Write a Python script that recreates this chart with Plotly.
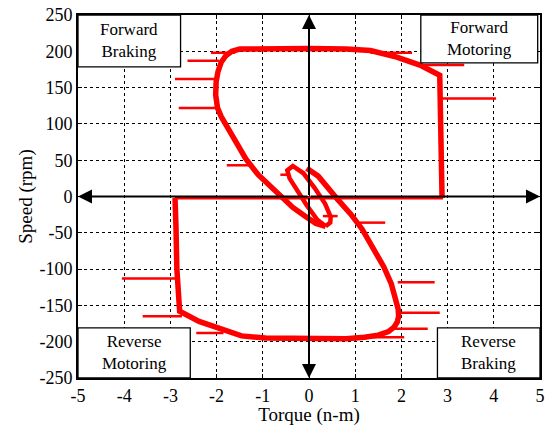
import plotly.graph_objects as go

# ---- data ----
# bottom horizontal line along the torque axis (speed ~ 0)
base_x = [-2.9, 0.0, 2.9]
base_y = [-2, -2, -2]

# forward motoring -> forward braking -> into the small loop
fwd_x = [2.88, 2.87, 2.85, 2.83, 2.4, 1.9, 1.33, 0.8, 0.0, -1.0, -1.3, -1.5, -1.67, -1.8, -1.9, -1.97, -2.01,
         -2.02, -1.98, -1.9, -1.78, -1.6, -1.37, -1.1, -0.85, -0.66, -0.55, -0.35, -0.09, 0.15, 0.36]
fwd_y = [-2, 60, 120, 167, 181, 192, 201, 203, 204, 204, 204, 203, 200, 194, 185, 172, 158,
         140, 122, 110, 97, 78, 52, 30, 15, 6, -3, -15, -27, -37, -41]

# small startup loop near the origin
loop_x = [0.36, 0.46, 0.47, 0.35, 0.12, -0.12, -0.35, -0.47, -0.42, -0.28, -0.05, 0.18, 0.36]
loop_y = [-41, -36, -28, -10, 12, 32, 42, 36, 25, 10, -12, -32, -41]

# reverse braking -> reverse motoring
rev_x = [-0.05, 0.2, 0.62, 0.9, 1.15, 1.41, 1.62, 1.78, 1.88, 1.93, 1.94, 1.91, 1.84, 1.72, 1.5, 1.2, 0.8, 0.41,
         0.0, -0.94, -1.46, -1.88, -2.38, -2.8, -2.86, -2.88, -2.9]
rev_y = [39, 28, -4, -24, -45, -72, -97, -120, -140, -155, -165, -173, -180, -186, -191, -194, -196, -196,
         -196, -195, -192, -183, -172, -158, -100, -40, -2]

# short horizontal transient spikes: (speed, torque start, torque end)
spike_y =  [198, 187, 162, 122, 43, 198, 181, 135, -36, -27, -118, -160, -182, -194, -113, -165, -188, 30]
spike_x0 = [-2.12, -2.63, -2.9, -2.82, -1.78, 1.33, 2.4, 2.85, 1.1, 0.3, 1.92, 1.95, 1.76, 1.3, -4.05, -3.6, -2.44, -0.62]
spike_x1 = [-1.6, -1.95, -2.0, -1.95, -1.3, 2.23, 3.36, 4.05, 1.65, 0.62, 2.72, 2.83, 2.57, 2.06, -2.9, -2.75, -1.85, -0.45]

x_ticks = [-5, -4, -3, -2, -1, 0, 1, 2, 3, 4, 5]
y_ticks = [-250, -200, -150, -100, -50, 0, 50, 100, 150, 200, 250]

quad_labels = ["Forward<br>Braking", "Forward<br>Motoring", "Reverse<br>Motoring", "Reverse<br>Braking"]

FONT = "Liberation Serif, Times New Roman, serif"
RED = "#ff0000"

fig = go.Figure()

sx, sy = [], []
for y, a, b in zip(spike_y, spike_x0, spike_x1):
    sx += [a, b, None]
    sy += [y, y, None]
fig.add_trace(go.Scatter(x=sx, y=sy, mode="lines", line=dict(color=RED, width=2.5),
                         hoverinfo="skip", showlegend=False))
fig.add_trace(go.Scatter(x=base_x, y=base_y, mode="lines", line=dict(color=RED, width=3),
                         hoverinfo="skip", showlegend=False))
fig.add_trace(go.Scatter(x=fwd_x, y=fwd_y, mode="lines", line=dict(color=RED, width=5.5),
                         hoverinfo="skip", showlegend=False))
fig.add_trace(go.Scatter(x=loop_x, y=loop_y, mode="lines", line=dict(color=RED, width=4.5),
                         hoverinfo="skip", showlegend=False))
fig.add_trace(go.Scatter(x=rev_x, y=rev_y, mode="lines", line=dict(color=RED, width=5.5),
                         hoverinfo="skip", showlegend=False))

axis_common = dict(
    showgrid=True, gridcolor="black", griddash="dot", gridwidth=1,
    showline=True, linecolor="black", linewidth=2, mirror="ticks",
    ticks="inside", ticklen=4, tickcolor="black",
    zeroline=False,
    tickfont=dict(family=FONT, size=18, color="black"),
)

fig.update_xaxes(range=[-5, 5], tickvals=x_ticks, ticktext=[str(v) for v in x_ticks],
                 title=dict(text="Torque (n-m)", font=dict(family=FONT, size=19, color="black"), standoff=4),
                 **axis_common)
fig.update_yaxes(range=[-250, 250], tickvals=y_ticks, ticktext=[str(v) for v in y_ticks],
                 title=dict(text="Speed (rpm)", font=dict(family=FONT, size=19, color="black"), standoff=2),
                 **axis_common)

# axis arrows (both directions)
for (tx, ty) in [(5, 0), (-5, 0), (0, 250), (0, -250)]:
    fig.add_annotation(x=tx, y=ty, ax=0, ay=0, xref="x", yref="y", axref="x", ayref="y",
                       showarrow=True, arrowhead=2, arrowsize=1.4, arrowwidth=2, arrowcolor="black", text="")

# quadrant boxes
boxes = [(-5, -2.78, 178.6, 250), (2.42, 4.95, 184, 250), (-5, -2.57, -250, -181), (2.78, 5, -250, -181)]
for (x0, x1, y0, y1), lab in zip(boxes, quad_labels):
    fig.add_shape(type="rect", x0=x0, x1=x1, y0=y0, y1=y1, xref="x", yref="y",
                  line=dict(color="black", width=1.3), fillcolor="white", layer="above")
    fig.add_annotation(x=(x0 + x1) / 2, y=(y0 + y1) / 2, xref="x", yref="y", text=lab, showarrow=False,
                       font=dict(family=FONT, size=17, color="black"), align="center")

fig.update_layout(
    width=548, height=426,
    margin=dict(l=78, r=3, t=15, b=47),
    paper_bgcolor="white", plot_bgcolor="white",
    showlegend=False,
)

fig.write_html("out.html")
